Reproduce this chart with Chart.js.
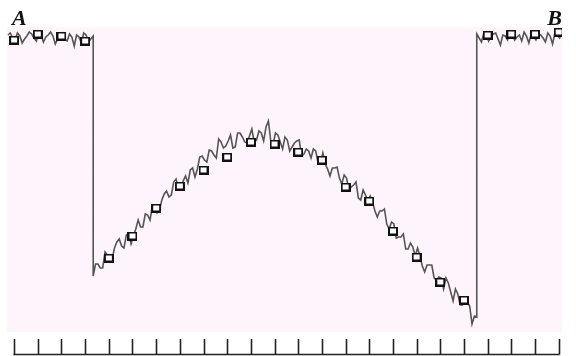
<!DOCTYPE html>
<html>
<head>
<meta charset="utf-8">
<script src="https://cdn.jsdelivr.net/npm/chart.js@4.4.1/dist/chart.umd.min.js"></script>
<style>
  html, body { margin: 0; padding: 0; background: #ffffff; }
  #wrap { width: 576px; height: 356px; position: relative; }
</style>
</head>
<body>
<div id="wrap"><canvas id="c" width="576" height="356"></canvas></div>
<script>
// ---- data ----
const tickValues = [0,1,2,3,4,5,6,7,8,9,10,11,12,13,14,15,16,17,18,19,20,21,22,23];
const markerY = [292,298,296,291,74,96,124,146,162,175,190,188,180,172,145,131,101,75,50,32,297,298,298,300];
const endLabels = ["A", "B"];

const traceLeftY = [297,299,294,292,299,296,289,293,296,300,298,294,291,298,297,290,295,297,300,296,
  288,293,296,299,293,291,298,295,286,297,295,289,299,297,290,293,296];
const traceMidY = [56,68,68,64,64,80,77,72,73,84,90,93,86,84,97,98,88,96,103,112,
  105,105,118,117,112,126,125,119,122,132,138,141,135,137,150,153,143,143,151,156,
  149,162,164,155,163,175,176,172,170,182,181,177,174,193,190,184,186,191,197,184,
  185,199,199,195,190,189,196,203,190,192,201,199,191,205,211,191,188,199,197,190,
  183,195,192,181,185,189,191,192,176,178,183,181,174,183,181,169,169,179,168,163,
  156,164,164,165,154,148,157,154,142,145,147,150,134,132,142,137,131,136,130,121,
  115,121,121,123,108,103,110,108,94,95,95,98,83,83,89,85,76,84,76,66,
  60,67,67,67,54,52,55,54,43,54,49,40,31,43,38,27,27,33,30,26,
  8,16,15];
const traceRightY = [298,294,290,299,297,291,295,298,299,293,287,297,296,292,298,299,292,295,297,291,
  300,296,289,298,296,292,298,297,294,290,299,296,288,299,297,294,300];

const leftStart = -0.26, midStart = 3.34, rightStart = 19.54, sampleStep = 0.1;

function seg(start, ys) { return ys.map((y, i) => ({ x: start + i * sampleStep, y: y })); }
const traceData = [].concat(seg(leftStart, traceLeftY), seg(midStart, traceMidY), seg(rightStart, traceRightY));
const markerData = tickValues.map((t, i) => ({ x: t, y: markerY[i] }));

// marker image: white box with dark border
const box = document.createElement('canvas');
box.width = 10; box.height = 9;
(function () {
  const g = box.getContext('2d');
  g.fillStyle = '#111';
  g.fillRect(0, 0, 10, 9);
  g.fillStyle = '#ffffff';
  g.fillRect(2, 2, 6, 5);
})();

const bgPlugin = {
  id: 'bg',
  beforeDatasetsDraw(chart) {
    const a = chart.chartArea, ctx = chart.ctx;
    ctx.save();
    ctx.fillStyle = '#fef5fc';
    ctx.fillRect(a.left, a.top, a.right - a.left, a.bottom - a.top);
    ctx.restore();
  }
};

const axisPlugin = {
  id: 'bottomTicks',
  afterDraw(chart) {
    const ctx = chart.ctx, xs = chart.scales.x;
    const base = 354.5, top = 339;
    ctx.save();
    ctx.strokeStyle = '#222';
    ctx.lineWidth = 1.6;
    ctx.beginPath();
    const x0 = xs.getPixelForValue(tickValues[0]);
    const x1 = xs.getPixelForValue(tickValues[tickValues.length - 1]);
    ctx.moveTo(x0 - 0.8, base);
    ctx.lineTo(x1 + 0.8, base);
    tickValues.forEach(t => {
      const px = Math.round(xs.getPixelForValue(t)) + 0.5;
      ctx.moveTo(px, top);
      ctx.lineTo(px, base);
    });
    ctx.stroke();
    // end labels
    ctx.fillStyle = '#111';
    ctx.font = 'italic bold 22px "Liberation Serif", "DejaVu Serif", serif';
    ctx.textBaseline = 'alphabetic';
    ctx.textAlign = 'left';
    ctx.fillText(endLabels[0], 12, 25);
    ctx.textAlign = 'right';
    ctx.fillText(endLabels[1], 562, 25);
    ctx.restore();
  }
};

new Chart(document.getElementById('c'), {
  type: 'line',
  data: {
    datasets: [
      {
        data: markerData,
        showLine: false,
        pointStyle: box,
        pointRadius: 5,
        order: 0
      },
      {
        data: traceData,
        borderColor: '#555555',
        borderWidth: 1.6,
        pointRadius: 0,
        tension: 0,
        fill: false,
        order: 1
      }
    ]
  },
  options: {
    responsive: false,
    devicePixelRatio: 1,
    animation: false,
    events: [],
    layout: { padding: { left: 7, right: 14, top: 27, bottom: 24 } },
    plugins: { legend: { display: false }, tooltip: { enabled: false } },
    scales: {
      x: { type: 'linear', min: -0.3, max: 23.14, display: false },
      y: { type: 'linear', min: 0, max: 305, display: false }
    }
  },
  plugins: [bgPlugin, axisPlugin]
});
</script>
</body>
</html>
